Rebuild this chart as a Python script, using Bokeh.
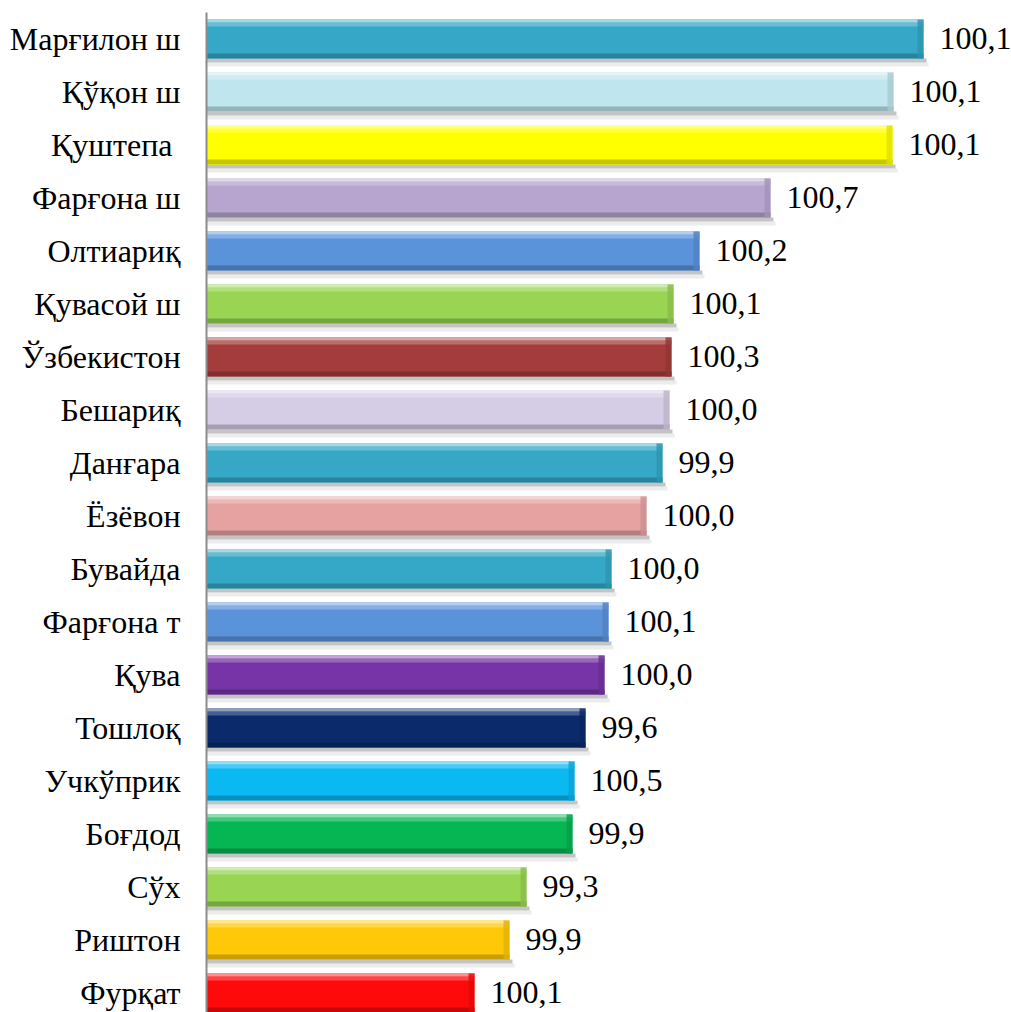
from bokeh.plotting import figure
from bokeh.models import ColumnDataSource, Range1d, FixedTicker
from bokeh.core.properties import value
from bokeh.embed import file_html
from bokeh.resources import INLINE

categories = ["Марғилон ш", "Қўқон ш", "Қуштепа ", "Фарғона ш", "Олтиариқ", "Қувасой ш",
              "Ўзбекистон", "Бешариқ", "Данғара", "Ёзёвон", "Бувайда", "Фарғона т",
              "Қува", "Тошлоқ", "Учкўприк", "Боғдод", "Сўх", "Риштон", "Фурқат"]
bar_values = [71.7, 68.7, 68.6, 56.4, 49.3, 46.7, 46.5, 46.3, 45.6, 44.0,
              40.5, 40.2, 39.8, 37.9, 36.8, 36.6, 32.0, 30.3, 26.8]
label_values = [100.1, 100.1, 100.1, 100.7, 100.2, 100.1, 100.3, 100.0, 99.9, 100.0,
                100.0, 100.1, 100.0, 99.6, 100.5, 99.9, 99.3, 99.9, 100.1]
bar_colors = ["#34A8C6", "#BFE6EF", "#FFFF00", "#B7A5CF", "#5B93DA", "#99D553",
              "#A33C3A", "#D5CCE5", "#34A8C6", "#E6A2A1", "#34A8C6", "#5B93DA",
              "#7634A6", "#0A2A6B", "#0AB8F2", "#06B652", "#99D553", "#FFC90A", "#FF0A0A"]

FONT = "Liberation Serif"

n = len(categories)
ys = [n - 1 - i for i in range(n)]

PXY = 1 / 53.0   # one pixel in y data units
PXX = 0.1        # one pixel in x data units
H = 39 * PXY


def blend(c, target, t):
    r, g, b = int(c[1:3], 16), int(c[3:5], 16), int(c[5:7], 16)
    tr, tg, tb = target
    return "#%02x%02x%02x" % (round(r + (tr - r) * t), round(g + (tg - g) * t), round(b + (tb - b) * t))


W = (255, 255, 255)
K = (0, 0, 0)

src = ColumnDataSource(dict(
    y=ys,
    v=bar_values,
    c=bar_colors,
    lbl=[f"{x:.1f}".replace(".", ",") for x in label_values],
    sh1_y=[y - (19.5 + 2) * PXY for y in ys],
    sh2_y=[y - (19.5 + 6) * PXY for y in ys],
    sh_r1=[v + 3 * PXX for v in bar_values],
    sh_r2=[v + 5 * PXX for v in bar_values],
    hl1_y=[y + (19.5 - 1.5) * PXY for y in ys],
    hl2_y=[y + (19.5 - 5) * PXY for y in ys],
    bd_y=[y - (19.5 - 2.5) * PXY for y in ys],
    re_l=[v - 6 * PXX for v in bar_values],
    c_hl1=[blend(c, W, 0.55) for c in bar_colors],
    c_hl2=[blend(c, W, 0.25) for c in bar_colors],
    c_bd=[blend(c, K, 0.22) for c in bar_colors],
    c_re=[blend(c, K, 0.12) for c in bar_colors],
))

p = figure(width=1011, height=1012, title=None,
           x_range=Range1d(0, 80.5), y_range=Range1d(-0.368, 18.5),
           x_axis_location=None, y_axis_location="left",
           output_backend="svg", toolbar_location=None,
           min_border_left=206, min_border_right=0, min_border_top=12, min_border_bottom=0)

p.background_fill_color = "white"
p.border_fill_color = "white"
p.outline_line_color = None
p.xgrid.visible = False
p.ygrid.visible = False

# shadows
p.hbar(y="sh2_y", left=0, right="sh_r2", height=4 * PXY, source=src, fill_color="#ececec", line_color=None)
p.hbar(y="sh1_y", left=0, right="sh_r1", height=4 * PXY, source=src, fill_color="#c4c4c4", line_color=None)
# main bar
p.hbar(y="y", left=0, right="v", height=H, source=src, fill_color="c", line_color=None)
# bevel pieces
p.hbar(y="hl2_y", left=0, right="v", height=4 * PXY, source=src, fill_color="c_hl2", line_color=None)
p.hbar(y="hl1_y", left=0, right="v", height=3 * PXY, source=src, fill_color="c_hl1", line_color=None)
p.hbar(y="bd_y", left=0, right="v", height=5 * PXY, source=src, fill_color="c_bd", line_color=None)
p.hbar(y="y", left="re_l", right="v", height=H, source=src, fill_color="c_re", line_color=None, fill_alpha=0.8)

# value labels
p.text(x="v", y="y", text="lbl", source=src, x_offset=16,
       text_font=value(FONT), text_font_size=value("32px"),
       text_baseline="middle", text_align="left", text_color="black")

ax = p.yaxis[0]
ax.ticker = FixedTicker(ticks=ys)
ax.major_label_overrides = {y: c for y, c in zip(ys, categories)}
ax.major_tick_line_color = None
ax.minor_tick_line_color = None
ax.major_tick_out = 0
ax.major_tick_in = 0
ax.axis_line_color = "#8c8c8c"
ax.axis_line_width = 2
ax.major_label_text_font = FONT
ax.major_label_text_font_size = "32px"
ax.major_label_text_color = "black"
ax.major_label_standoff = 26

open("out.html", "w").write(file_html(p, INLINE))
